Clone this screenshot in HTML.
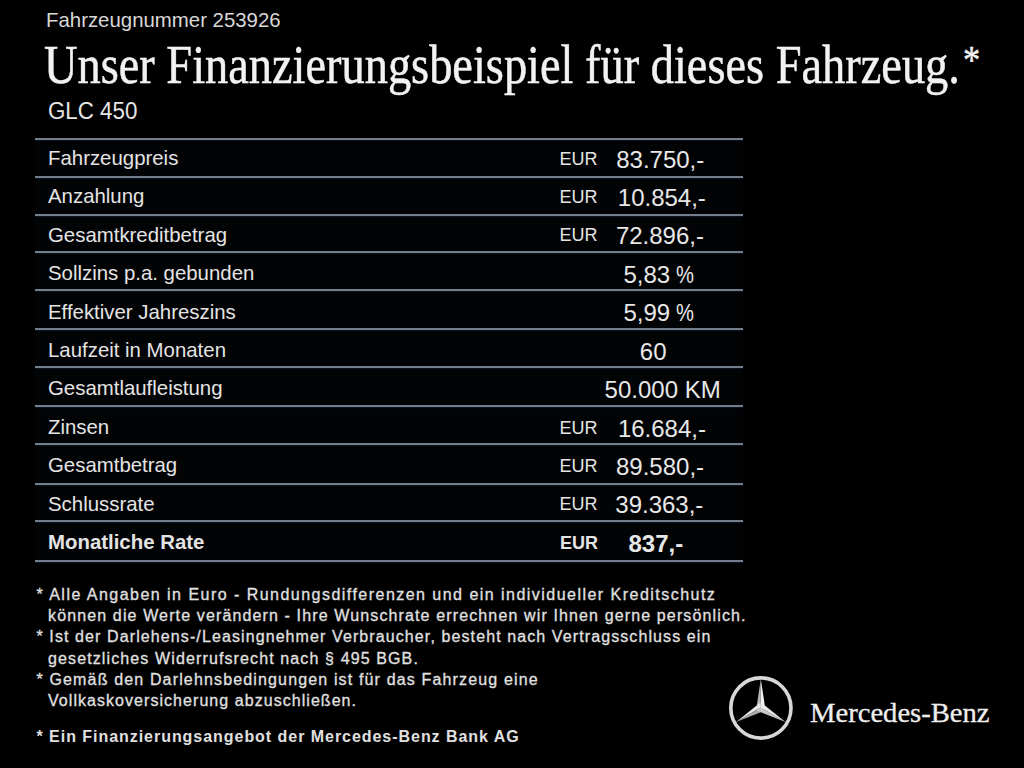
<!DOCTYPE html>
<html><head><meta charset="utf-8">
<style>
html,body{margin:0;padding:0;background:#000;}
body{width:1024px;height:768px;position:relative;overflow:hidden;font-family:"Liberation Sans",sans-serif;color:#e6e6e6;}
.t{position:absolute;white-space:nowrap;line-height:1;}
.serif{font-family:"Liberation Serif",serif;}
.line{position:absolute;left:35px;width:708px;height:2px;background:#727e8b;box-shadow:0 1px 1px #0d1622;}
.lab{position:absolute;left:48px;font-size:20.4px;line-height:1;white-space:nowrap;color:#e4e4e4;}
.eur{position:absolute;left:559.5px;font-size:18px;line-height:1;white-space:nowrap;color:#e4e4e4;}
.val{position:absolute;font-size:24px;line-height:1;white-space:nowrap;color:#e8e8e8;}
.fn{position:absolute;font-size:16px;line-height:1;white-space:nowrap;color:#e0e0e0;-webkit-text-stroke:0.3px #e0e0e0;}
</style></head>
<body>

<div style="position:absolute;left:35px;top:138px;width:708px;height:423px;background:#020305"></div>
<div class="t" style="left:46px;top:10px;font-size:20.4px;color:#d8d8d8;">Fahrzeugnummer 253926</div>
<div class="t serif" style="left:44px;top:37.8px;font-size:54px;transform-origin:0 0;transform:scaleX(0.859);color:#f2f2f2;-webkit-text-stroke:0.5px #f2f2f2;">Unser Finanzierungsbeispiel für dieses Fahrzeug.<span style="font-size:40px;position:relative;top:-9.5px;margin-left:3.5px">*</span></div>
<div class="t" style="left:48px;top:99.8px;font-size:23.5px;transform-origin:0 0;transform:scaleX(0.95);">GLC 450</div>
<div class="line" style="top:137.6px"></div>
<div class="line" style="top:175.9px"></div>
<div class="line" style="top:214.3px"></div>
<div class="line" style="top:250.9px"></div>
<div class="line" style="top:289.4px"></div>
<div class="line" style="top:327.9px"></div>
<div class="line" style="top:366.1px"></div>
<div class="line" style="top:404.5px"></div>
<div class="line" style="top:443.0px"></div>
<div class="line" style="top:483.1px"></div>
<div class="line" style="top:519.6px"></div>
<div class="line" style="top:559.9px"></div>
<div class="lab" style="top:147.7px">Fahrzeugpreis</div>
<div class="lab" style="top:186.2px">Anzahlung</div>
<div class="lab" style="top:224.6px">Gesamtkreditbetrag</div>
<div class="lab" style="top:263.0px">Sollzins p.a. gebunden</div>
<div class="lab" style="top:301.5px">Effektiver Jahreszins</div>
<div class="lab" style="top:339.9px">Laufzeit in Monaten</div>
<div class="lab" style="top:378.3px">Gesamtlaufleistung</div>
<div class="lab" style="top:416.7px">Zinsen</div>
<div class="lab" style="top:455.2px">Gesamtbetrag</div>
<div class="lab" style="top:493.6px">Schlussrate</div>
<div class="lab" style="top:532.0px;font-weight:bold">Monatliche Rate</div>
<div class="eur" style="top:149.6px">EUR</div>
<div class="val" style="left:616.2px;top:147.5px">83.750,-</div>
<div class="eur" style="top:188.0px">EUR</div>
<div class="val" style="left:617.8px;top:185.9px">10.854,-</div>
<div class="eur" style="top:226.4px">EUR</div>
<div class="val" style="left:615.9px;top:224.3px">72.896,-</div>
<div class="val" style="left:623.4px;top:262.8px">5,83<span style="word-spacing:-1px"> </span><span style="display:inline-block;transform-origin:0 0;transform:scaleX(0.84)">%</span></div>
<div class="val" style="left:623.4px;top:301.2px">5,99<span style="word-spacing:-1px"> </span><span style="display:inline-block;transform-origin:0 0;transform:scaleX(0.84)">%</span></div>
<div class="val" style="left:639.8px;top:339.6px">60</div>
<div class="val" style="left:604.6px;top:378.1px">50.000 KM</div>
<div class="eur" style="top:418.6px">EUR</div>
<div class="val" style="left:617.9px;top:416.5px">16.684,-</div>
<div class="eur" style="top:457.0px">EUR</div>
<div class="val" style="left:616.0px;top:454.9px">89.580,-</div>
<div class="eur" style="top:495.4px">EUR</div>
<div class="val" style="left:615.3px;top:493.4px">39.363,-</div>
<div class="eur" style="top:533.9px;font-weight:bold;left:560px">EUR</div>
<div class="val" style="left:628.5px;top:531.8px;font-weight:bold">837,-</div>
<div class="fn" style="left:36.5px;top:587.0px;letter-spacing:1.47px">* Alle Angaben in Euro - Rundungsdifferenzen und ein individueller Kreditschutz</div>
<div class="fn" style="left:48.0px;top:608.1px;letter-spacing:1.13px">können die Werte verändern - Ihre Wunschrate errechnen wir Ihnen gerne persönlich.</div>
<div class="fn" style="left:36.5px;top:629.4px;letter-spacing:1.10px">* Ist der Darlehens-/Leasingnehmer Verbraucher, besteht nach Vertragsschluss ein</div>
<div class="fn" style="left:48.0px;top:650.5px;letter-spacing:1.12px">gesetzliches Widerrufsrecht nach § 495 BGB.</div>
<div class="fn" style="left:36.5px;top:671.7px;letter-spacing:1.15px">* Gemäß den Darlehnsbedingungen ist für das Fahrzeug eine</div>
<div class="fn" style="left:48.0px;top:692.8px;letter-spacing:1.05px">Vollkaskoversicherung abzuschließen.</div>
<div class="fn" style="left:36.5px;top:728.9px;letter-spacing:0.96px;font-weight:bold;-webkit-text-stroke:0">* Ein Finanzierungsangebot der Mercedes-Benz Bank AG</div>
<svg style="position:absolute;left:0;top:0" width="1024" height="768">
  <circle cx="760.9" cy="708" r="30.1" fill="none" stroke="#d8d8d8" stroke-width="3.6"/>
<polygon points="760.8,679.1 765.4,709.8 760.8,707.6" fill="#f4f4f4"/>
<polygon points="760.8,679.1 760.8,707.6 756.2,709.8" fill="#b8b8b8"/>
<polygon points="736.1,721.9 760.4,702.5 760.8,707.6" fill="#e8e8e8"/>
<polygon points="736.1,721.9 760.8,707.6 765.0,710.5" fill="#a8a8a8"/>
<polygon points="785.5,721.9 756.6,710.5 760.8,707.6" fill="#c8c8c8"/>
<polygon points="785.5,721.9 760.8,707.6 761.2,702.5" fill="#ececec"/>
</svg>
<div class="t serif" style="left:810px;top:700px;font-size:27px;transform-origin:0 0;transform:scaleX(1.06);color:#eeeeee;-webkit-text-stroke:0.3px #eeeeee;">Mercedes-Benz</div>
</body></html>
